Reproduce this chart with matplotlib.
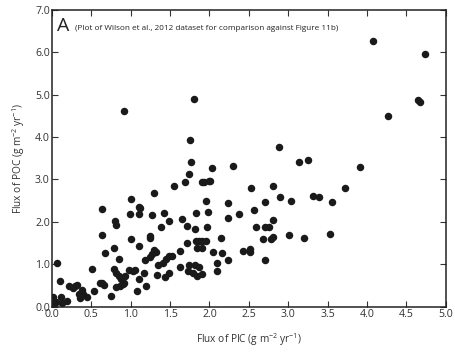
import numpy as np
import matplotlib
matplotlib.use("Agg")
import matplotlib.pyplot as plt

plt.rcParams['font.family'] = ['Open Sans', 'DejaVu Sans']
plt.rcParams['mathtext.fontset'] = 'custom'
plt.rcParams['mathtext.rm'] = 'Open Sans'

pic = [0.91, 1.80, 1.75, 1.76, 1.74, 2.03, 2.30, 2.88, 3.14, 3.25, 3.91, 4.07, 4.27, 4.65, 4.67, 4.73,
       1.90, 1.93, 1.99, 2.01, 1.69, 1.55, 1.30, 1.00, 0.63, 0.99, 1.10, 1.11, 1.27, 1.42,
       1.48, 1.39, 1.65, 1.72, 1.83, 1.95, 1.98, 1.97, 1.81, 2.24, 2.24, 2.38, 2.53, 2.57,
       2.70, 2.81, 2.90, 3.03, 3.31, 3.39, 3.56, 3.72, 2.59, 2.71, 2.75, 2.80, 2.68, 2.78,
       2.81, 3.01, 3.20, 3.53, 2.71, 2.52, 2.52, 2.42, 2.24, 2.16, 2.15, 2.04, 2.10, 2.09,
       1.83, 1.87, 1.91, 1.95, 1.84, 1.90, 1.71, 1.62, 1.63, 1.74, 1.82, 1.87, 1.73, 1.79,
       1.84, 1.90, 1.49, 1.53, 1.45, 1.41, 1.35, 1.32, 1.29, 1.27, 1.25, 1.25, 1.25, 1.11,
       1.00, 1.18, 1.33, 1.44, 1.48, 1.17, 1.20, 1.08, 1.10, 0.98, 1.05, 1.03, 0.79, 0.85,
       0.80, 0.81, 0.64, 0.67, 0.51, 0.79, 0.82, 0.85, 0.88, 0.91, 0.93, 0.90, 0.82, 0.86,
       0.61, 0.66, 0.63, 0.75, 0.54, 0.44, 0.32, 0.38, 0.36, 0.39, 0.34, 0.22, 0.27, 0.29,
       0.07, 0.10, 0.02, 0.00, 0.05, 0.03, 0.11, 0.13, 0.19, 1.12]
poc = [4.61, 4.90, 3.92, 3.42, 3.13, 3.28, 3.31, 3.76, 3.40, 3.46, 3.29, 6.27, 4.50, 4.87, 4.83, 5.96,
       2.93, 2.93, 2.97, 2.96, 2.93, 2.85, 2.69, 2.55, 2.31, 2.19, 2.19, 2.34, 2.17, 2.20,
       2.03, 1.89, 2.07, 1.91, 2.22, 2.50, 2.23, 1.89, 1.83, 2.45, 2.09, 2.19, 2.80, 2.28,
       2.47, 2.85, 2.59, 2.50, 2.62, 2.59, 2.46, 2.80, 1.88, 1.88, 1.88, 2.04, 1.60, 1.60,
       1.65, 1.69, 1.61, 1.72, 1.09, 1.37, 1.30, 1.31, 1.09, 1.27, 1.63, 1.30, 1.03, 0.84,
       1.54, 1.54, 1.54, 1.54, 1.38, 1.38, 1.50, 1.31, 0.93, 0.98, 0.98, 0.94, 0.83, 0.79,
       0.72, 0.76, 1.20, 1.20, 1.12, 1.04, 0.98, 1.28, 1.34, 1.24, 1.16, 1.67, 1.61, 1.44,
       1.60, 1.09, 0.74, 0.71, 0.80, 0.79, 0.49, 0.37, 0.65, 0.87, 0.87, 0.83, 1.39, 1.12,
       2.01, 1.93, 1.69, 1.26, 0.89, 0.88, 0.80, 0.72, 0.65, 0.57, 0.72, 0.53, 0.47, 0.49,
       0.57, 0.51, 0.55, 0.25, 0.38, 0.22, 0.52, 0.39, 0.21, 0.30, 0.30, 0.49, 0.44, 0.49,
       1.04, 0.61, 0.22, 0.12, 0.12, 0.06, 0.22, 0.09, 0.13, 2.32]

x_ticks = np.arange(0, 5.01, 0.5)
y_ticks = np.arange(0, 7.01, 1.0)

fig = plt.figure(figsize=(4.55, 3.56), dpi=100)
ax = fig.add_axes([0.114, 0.1385, 0.866, 0.834])

ax.plot(pic, poc, 'o', color='#1a1a1a', markersize=5.4, markeredgewidth=0)

ax.set_xlim(0, 5)
ax.set_ylim(0, 7)
ax.set_xticks(x_ticks)
ax.set_yticks(y_ticks)
ax.set_xticklabels([f"{v:.1f}" for v in x_ticks])
ax.set_yticklabels([f"{v:.1f}" for v in y_ticks])
ax.tick_params(direction='in', top=True, right=True, length=4, width=0.8,
               labelsize=7.6, colors='#333333', pad=1.5)
for s in ax.spines.values():
    s.set_linewidth(1.1)
    s.set_color('#222222')

ax.set_xlabel("Flux of PIC (g m$^{-2}$ yr$^{-1}$)", fontsize=7.3, color='#333333', labelpad=8)
ax.set_ylabel("Flux of POC (g m$^{-2}$ yr$^{-1}$)", fontsize=7.3, color='#333333', labelpad=6)

ax.text(0.014, 0.975, "A", transform=ax.transAxes, fontsize=14, va='top', ha='left', color='#222222')
ax.text(0.058, 0.948, "(Plot of Wilson et al., 2012 dataset for comparison against Figure 11b)",
        transform=ax.transAxes, fontsize=5.9, va='top', ha='left', color='#222222')

fig.savefig("out.png", dpi=100)
